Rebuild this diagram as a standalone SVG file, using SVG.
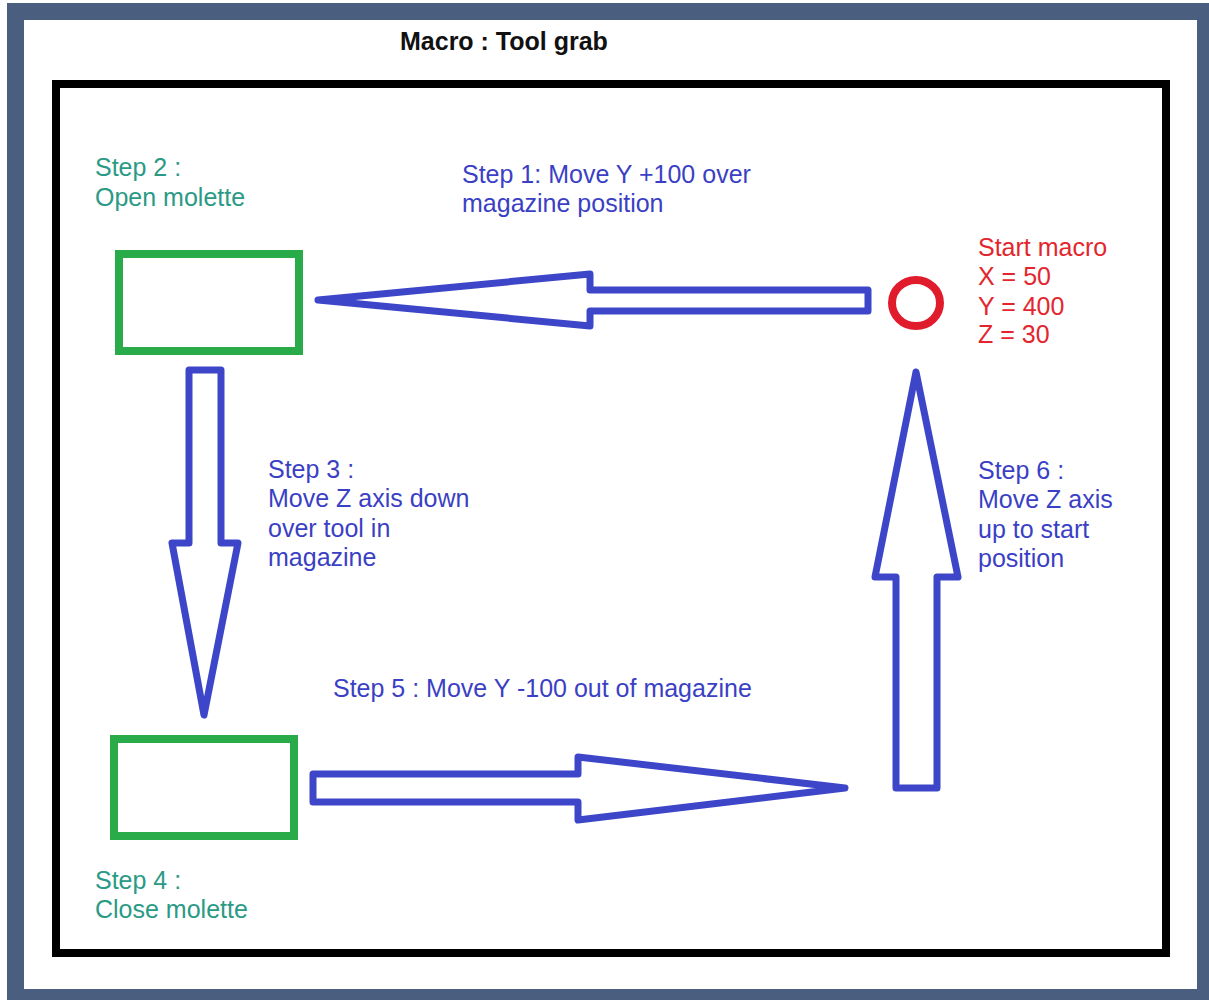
<svg xmlns="http://www.w3.org/2000/svg" width="1209" height="1000" viewBox="0 0 1209 1000">
<style>
text{font-family:"Liberation Sans",Arial,sans-serif;font-size:25px}
.title{font-weight:bold;fill:#111}
.blue{fill:#3b3fc4}
.teal{fill:#2a9a86}
.red{fill:#e3262e}
.box{fill:none;stroke:#2aab4a;stroke-width:8}
.arrow{fill:none;stroke:#3d46c8;stroke-width:7;stroke-linejoin:round}
</style>
<rect x="0" y="0" width="1209" height="1000" fill="#ffffff"/>
<rect x="7" y="3" width="1202" height="997" fill="#4a5e80"/>
<rect x="24" y="20" width="1173" height="969" fill="#ffffff"/>
<rect x="56" y="84" width="1110" height="869" fill="none" stroke="#000" stroke-width="8"/>
<text class="title" x="400" y="50">Macro : Tool grab</text>
<g id="connectors">
<polygon class="arrow" points="318,300 590,274 590,290 868,290 868,311 590,311 590,326"/>
<polygon class="arrow" points="189,370 221,370 221,543 238,543 204,715 172,543 189,543"/>
<polygon class="arrow" points="313,774 578,774 578,757 845,788 578,820 578,802 313,802"/>
<polygon class="arrow" points="916,372 958,577 937,577 937,788 896,788 896,577 875,577"/>
</g>
<g id="step2">
<rect class="box" x="119" y="254" width="180" height="97"/>
<text class="teal" x="95" y="176">Step 2 :</text>
<text class="teal" x="95" y="206">Open molette</text>
</g>
<g id="step4">
<rect class="box" x="114" y="739" width="180" height="97"/>
<text class="teal" x="95" y="889">Step 4 :</text>
<text class="teal" x="95" y="918">Close molette</text>
</g>
<g id="start">
<ellipse cx="916" cy="303" rx="24" ry="23" fill="none" stroke="#e01c2c" stroke-width="8"/>
<text class="red" x="978" y="256">Start macro</text>
<text class="red" x="978" y="285">X = 50</text>
<text class="red" x="978" y="315">Y = 400</text>
<text class="red" x="978" y="343">Z = 30</text>
</g>
<g id="step1">
<text class="blue" x="462" y="183">Step 1: Move Y +100 over</text>
<text class="blue" x="462" y="212">magazine position</text>
</g>
<g id="step3">
<text class="blue" x="268" y="478">Step 3 :</text>
<text class="blue" x="268" y="507">Move Z axis down</text>
<text class="blue" x="268" y="537">over tool in</text>
<text class="blue" x="268" y="566">magazine</text>
</g>
<g id="step5">
<text class="blue" x="333" y="697">Step 5 : Move Y -100 out of magazine</text>
</g>
<g id="step6">
<text class="blue" x="978" y="479">Step 6 :</text>
<text class="blue" x="978" y="508">Move Z axis</text>
<text class="blue" x="978" y="538">up to start</text>
<text class="blue" x="978" y="567">position</text>
</g>
</svg>
